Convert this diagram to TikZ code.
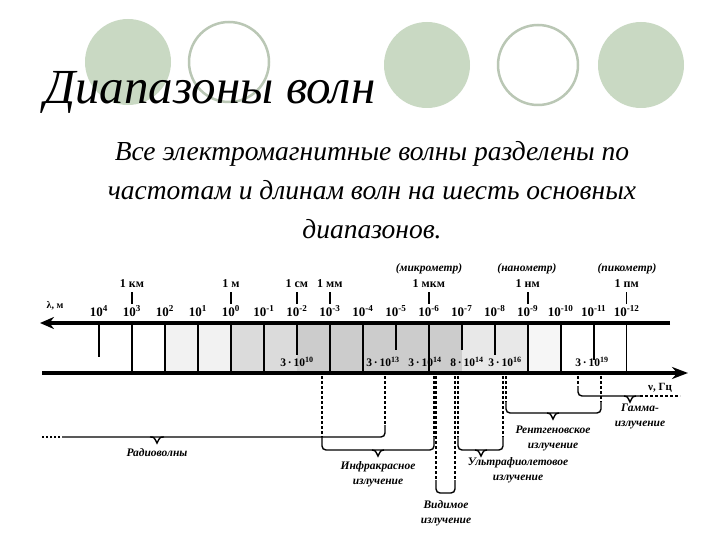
\documentclass[tikz,border=0pt]{standalone}
\usepackage{fontspec}
\setmainfont{Liberation Serif}
\usetikzlibrary{arrows.meta,calc}
\definecolor{cgreen}{HTML}{C9D9C3}
\begin{document}
\begin{tikzpicture}[x=1pt,y=-1pt,
  circg/.style={fill=cgreen,draw=none},
  circw/.style={fill=white,draw=cgreen!80!gray,line width=2.5pt},
  ax/.style={line width=4pt},
  tk/.style={line width=1.6pt},
  lab/.style={font=\bfseries\fontsize{10}{10}\selectfont,inner sep=0pt},
  ulab/.style={font=\bfseries\fontsize{12}{12}\selectfont,inner sep=0pt},
  rlab/.style={font=\bfseries\itshape\fontsize{11.5}{15}\selectfont,align=center,inner sep=0pt},
  dsh/.style={densely dashed,line width=1.3pt},
  br/.style={line width=1.4pt,rounded corners=4pt}]
\useasboundingbox (0,0) rectangle (720,540);
\fill[white] (0,0) rectangle (720,540);
% circles
\node[circg,circle,minimum size=86pt] (c1) at (128,62) {};
\node[circw,circle,minimum size=80pt] (c2) at (229,62) {};
\node[circg,circle,minimum size=86pt] (c3) at (427,65) {};
\node[circw,circle,minimum size=80pt] (c4) at (538,65) {};
\node[circg,circle,minimum size=86pt] (c5) at (641,65) {};
\node[font=\itshape\fontsize{49}{49}\selectfont,anchor=west,inner sep=0pt] (title) at (44,92) {Диапазоны волн};
\node[font=\itshape\fontsize{27.5}{39}\selectfont,align=center] (txt) at (372,190) {Все электромагнитные волны разделены по\\частотам и длинам волн на шесть основных\\диапазонов.};
% shading
\fill[gray!10] (164,325) rectangle (230,371);
\fill[gray!28] (230,325) rectangle (297,371);
\fill[gray!40] (297,325) rectangle (462,371);
\fill[gray!18] (462,325) rectangle (527,371);
\fill[gray!7] (527,325) rectangle (561,371);
% axes
\coordinate (aL) at (40,323); \coordinate (aR) at (670,323);
\draw[ax,-{Stealth[length=14pt,width=12pt]}] (aR) -- (aL);
\coordinate (bL) at (42,373); \coordinate (bR) at (688,373);
\draw[ax,-{Stealth[length=16pt,width=12pt]}] (bL) -- (bR);
\node[lab] (lam) at (55,306) {λ, м};
\node[lab,font=\bfseries\fontsize{11}{11}\selectfont] (nu) at (660,388) {ν, Гц};
% ticks
\foreach \k/\e/\len in {0/4/357,1/3/373,2/2/373,3/1/373,4/0/373,5/-1/373,6/-2/355,7/-3/373,8/-4/373,9/-5/350,10/-6/373,11/-7/350,12/-8/355,13/-9/373,14/-10/373,15/-11/360,16/-12/373}{
  \draw[tk] (99+32.98*\k,323) -- (99+32.98*\k,\len);
  \node[lab,font=\bfseries\fontsize{13}{13}\selectfont] (t\k) at (99+32.98*\k,311) {10\textsuperscript{\e}};
}
% unit labels
\foreach \k/\t in {1/1 км,4/1 м,6/1 см,7/1 мм,10/1 мкм,13/1 нм,16/1 пм}{
  \node[ulab] (u\k) at (99+32.98*\k,284) {\t};
  \draw[tk] ($(u\k.south)+(0,4)$) -- ($(u\k.south)+(0,16)$);
}
\node[rlab] (mk) at (429,269) {(микрометр)};
\node[rlab] (nm) at (527,269) {(нанометр)};
\node[rlab] (pm) at (627,269) {(пикометр)};
% freq labels
\foreach \x/\t in {297/3\,·\,10\textsuperscript{10},383/3\,·\,10\textsuperscript{13},425/3\,·\,10\textsuperscript{14},467/8\,·\,10\textsuperscript{14},505/3\,·\,10\textsuperscript{16},592/3\,·\,10\textsuperscript{19}}
  \node[lab,font=\bfseries\fontsize{11.5}{11.5}\selectfont] at (\x,362) {\t};
% radio
\draw[dsh] (385,376) -- (385,425);
\draw[br] (385,425) -- (385,437) -- (62,437);
\draw[line width=1.4pt] (150,437) .. controls (154,437) .. (157,443) .. controls (160,437) .. (164,437);
\draw[dotted,line width=2pt] (60,437) -- (42,437);
\node[rlab] (radio) at (157,453) {Радиоволны};
% IR
\draw[dsh] (322,376) -- (322,437);
\draw[dsh] (434,376) -- (434,437);
\draw[br] (322,437) -- (322,450) -- (434,450) -- (434,437);
\draw[line width=1.4pt] (372,450) .. controls (375,450) .. (378,456) .. controls (381,450) .. (384,450);
\node[rlab] (ir) at (378,474) {Инфракрасное\\излучение};
% visible
\draw[dsh] (436,376) -- (436,480);
\draw[dsh] (455,376) -- (455,480);
\draw[br] (436,480) -- (436,493) -- (455,493) -- (455,480);
\node[rlab] (vis) at (446,513) {Видимое\\излучение};
% UV
\draw[dsh] (458,376) -- (458,437);
\draw[dsh] (503,376) -- (503,437);
\draw[br] (458,437) -- (458,450) -- (503,450) -- (503,437);
\draw[line width=1.4pt] (475,450) .. controls (478,450) .. (481,456) .. controls (484,450) .. (487,450);
\node[rlab] (uv) at (518,470) {Ультрафиолетовое\\излучение};
% X-ray
\draw[dsh] (506,376) -- (506,402);
\draw[dsh] (601,376) -- (601,402);
\draw[br] (506,402) -- (506,413) -- (601,413) -- (601,402);
\draw[line width=1.4pt] (547,413) .. controls (550,413) .. (553,419) .. controls (556,413) .. (559,413);
\node[rlab] (xr) at (553,438) {Рентгеновское\\излучение};
% gamma
\draw[dsh] (578,376) -- (578,386);
\draw[br] (578,386) -- (578,396) -- (640,396);
\draw[dsh] (640,396) -- (680,396);
\draw[line width=1.4pt] (624,396) .. controls (627,396) .. (630,402) .. controls (633,396) .. (636,396);
\node[rlab] (gm) at (640,416) {Гамма-\\излучение};
\end{tikzpicture}
\end{document}
